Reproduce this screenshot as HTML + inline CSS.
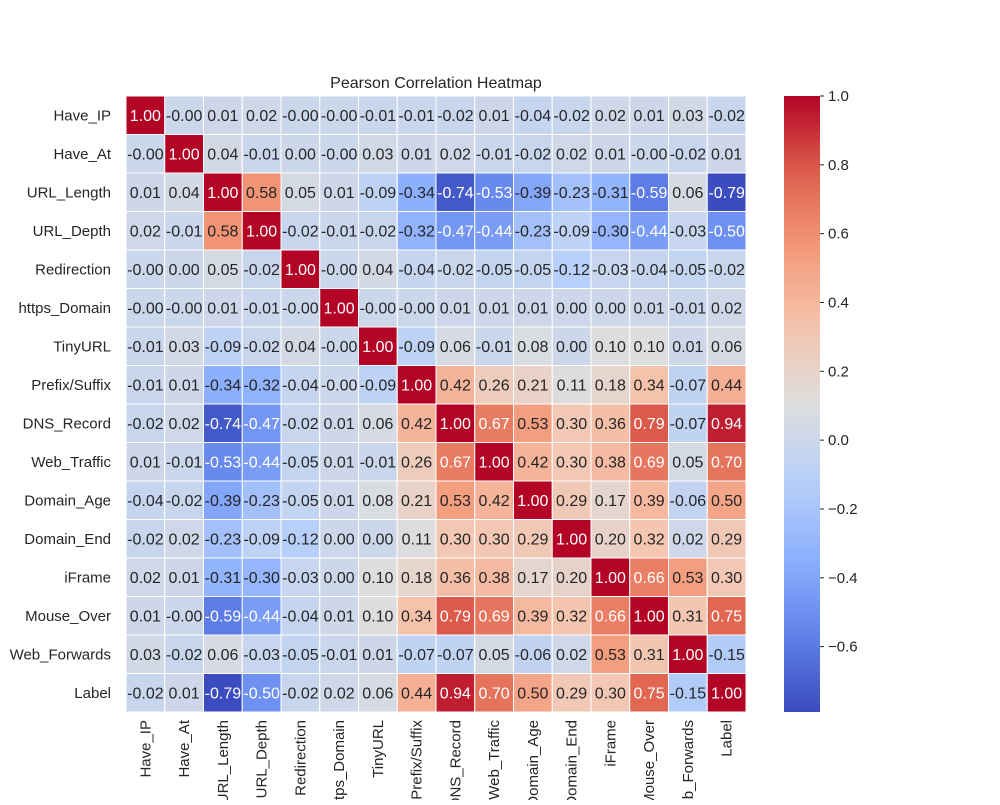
<!DOCTYPE html>
<html><head><meta charset="utf-8"><style>
body{margin:0;background:#fff;}
svg text{font-family:"Liberation Sans",Arial,sans-serif;}
</style></head><body>
<svg id="chart" width="1000" height="800" viewBox="0 0 1000 800" xmlns="http://www.w3.org/2000/svg">
<text x="436" y="88" font-size="16" text-anchor="middle" fill="#262626">Pearson Correlation Heatmap</text>
<g id="cells"></g><g id="ylab"></g><g id="xlab"></g><g id="cbar"></g>
</svg>
<script>
const labels=["Have_IP","Have_At","URL_Length","URL_Depth","Redirection","https_Domain","TinyURL","Prefix/Suffix","DNS_Record","Web_Traffic","Domain_Age","Domain_End","iFrame","Mouse_Over","Web_Forwards","Label"];
const row0=[1.00,-0.001,0.01,0.02,-0.001,-0.001,-0.01,-0.01,-0.02,0.01,-0.04,-0.02,0.02,0.01,0.03,-0.02];
const row1=[-0.001,1.00,0.04,-0.01,0.001,-0.001,0.03,0.01,0.02,-0.01,-0.02,0.02,0.01,-0.001,-0.02,0.01];
const row2=[0.01,0.04,1.00,0.58,0.05,0.01,-0.09,-0.34,-0.74,-0.53,-0.39,-0.23,-0.31,-0.59,0.06,-0.79];
const row3=[0.02,-0.01,0.58,1.00,-0.02,-0.01,-0.02,-0.32,-0.47,-0.44,-0.23,-0.09,-0.30,-0.44,-0.03,-0.50];
const row4=[-0.001,0.001,0.05,-0.02,1.00,-0.001,0.04,-0.04,-0.02,-0.05,-0.05,-0.12,-0.03,-0.04,-0.05,-0.02];
const row5=[-0.001,-0.001,0.01,-0.01,-0.001,1.00,-0.001,-0.001,0.01,0.01,0.01,0.001,0.001,0.01,-0.01,0.02];
const row6=[-0.01,0.03,-0.09,-0.02,0.04,-0.001,1.00,-0.09,0.06,-0.01,0.08,0.001,0.10,0.10,0.01,0.06];
const row7=[-0.01,0.01,-0.34,-0.32,-0.04,-0.001,-0.09,1.00,0.42,0.26,0.21,0.11,0.18,0.34,-0.07,0.44];
const row8=[-0.02,0.02,-0.74,-0.47,-0.02,0.01,0.06,0.42,1.00,0.67,0.53,0.30,0.36,0.79,-0.07,0.94];
const row9=[0.01,-0.01,-0.53,-0.44,-0.05,0.01,-0.01,0.26,0.67,1.00,0.42,0.30,0.38,0.69,0.05,0.70];
const row10=[-0.04,-0.02,-0.39,-0.23,-0.05,0.01,0.08,0.21,0.53,0.42,1.00,0.29,0.17,0.39,-0.06,0.50];
const row11=[-0.02,0.02,-0.23,-0.09,-0.12,0.001,0.001,0.11,0.30,0.30,0.29,1.00,0.20,0.32,0.02,0.29];
const row12=[0.02,0.01,-0.31,-0.30,-0.03,0.001,0.10,0.18,0.36,0.38,0.17,0.20,1.00,0.66,0.53,0.30];
const row13=[0.01,-0.001,-0.59,-0.44,-0.04,0.01,0.10,0.34,0.79,0.69,0.39,0.32,0.66,1.00,0.31,0.75];
const row14=[0.03,-0.02,0.06,-0.03,-0.05,-0.01,0.01,-0.07,-0.07,0.05,-0.06,0.02,0.53,0.31,1.00,-0.15];
const row15=[-0.02,0.01,-0.79,-0.50,-0.02,0.02,0.06,0.44,0.94,0.70,0.50,0.29,0.30,0.75,-0.15,1.00];
const matrix=[row0,row1,row2,row3,row4,row5,row6,row7,row8,row9,row10,row11,row12,row13,row14,row15];
const cbarTicks=[1.0,0.8,0.6,0.4,0.2,0.0,-0.2,-0.4,-0.6];

const NS="http://www.w3.org/2000/svg";
const X0=126,Y0=96,W=620,H=616;
let vmin=Infinity,vmax=-Infinity;
matrix.forEach(r=>r.forEach(v=>{vmin=Math.min(vmin,v);vmax=Math.max(vmax,v);}));
const stops=[[59,76,192],[97,130,234],[141,176,254],[184,208,249],[221,221,221],[245,196,173],[244,154,123],[222,96,77],[180,4,38]];
function cmap(v){let t=(v-vmin)/(vmax-vmin);t=Math.max(0,Math.min(1,t));const p=t*(stops.length-1);const i=Math.min(stops.length-2,Math.floor(p));const f=p-i;
return stops[i].map((c,k)=>Math.round(c+(stops[i+1][k]-c)*f));}
function lum(c){const l=c.map(x=>{x/=255;return x<=0.03928?x/12.92:Math.pow((x+0.055)/1.055,2.4);});return 0.2126*l[0]+0.7152*l[1]+0.0722*l[2];}
function mk(tag,attrs,parent){const e=document.createElementNS(NS,tag);for(const k in attrs)e.setAttribute(k,attrs[k]);parent.appendChild(e);return e;}
const n=labels.length,cw=W/n,ch=H/n;
const cells=document.getElementById('cells');
matrix.forEach((r,i)=>r.forEach((v,j)=>{
 const c=cmap(v);
 const rect=mk('rect',{x:X0+j*cw,y:Y0+i*ch,width:cw,height:ch,fill:`rgb(${c})`,stroke:'#fff','stroke-width':1},cells);
 
 
 const t=mk('text',{x:X0+(j+0.5)*cw,y:Y0+(i+0.5)*ch+5.5,'text-anchor':'middle','font-size':16,fill:lum(c)>0.355?'#262626':'#fff'},cells);
 t.textContent=v.toFixed(2);
 
 
}));
const yl=document.getElementById('ylab'),xl=document.getElementById('xlab');
labels.forEach((l,i)=>{
 const t=mk('text',{x:X0-15,y:Y0+(i+0.5)*ch+5,'text-anchor':'end','font-size':15,fill:'#262626'},yl);
 t.textContent=l;
 
 
 const cx=X0+(i+0.5)*cw+5;
 const u=mk('text',{x:cx,y:720,'text-anchor':'end','font-size':15,fill:'#262626',transform:`rotate(-90 ${cx} 720)`},xl);
 u.textContent=l;
 
 
});
const cb=document.getElementById('cbar');
const CX=784,CW=36;
const defs=mk('defs',{},cb);
const g=mk('linearGradient',{id:'cg',x1:0,y1:1,x2:0,y2:0},defs);
for(let k=0;k<=20;k++){const v=vmin+(vmax-vmin)*k/20;mk('stop',{offset:k/20,'stop-color':`rgb(${cmap(v)})`},g);}
const bar=mk('rect',{x:CX,y:Y0,width:CW,height:H,fill:'url(#cg)'},cb);


const cy=v=>Y0+H-(v-vmin)/(vmax-vmin)*H;
cbarTicks.forEach(v=>{
 const y=cy(v);
 mk('line',{x1:CX+CW,x2:CX+CW+4,y1:y,y2:y,stroke:'#262626','stroke-width':1},cb);
 const t=mk('text',{x:CX+CW+8,y:y+5,'font-size':15,fill:'#262626'},cb);
 t.textContent=(v<0?'\u2212'+Math.abs(v).toFixed(1):v.toFixed(1));
 
 
});
</script>
</body></html>
